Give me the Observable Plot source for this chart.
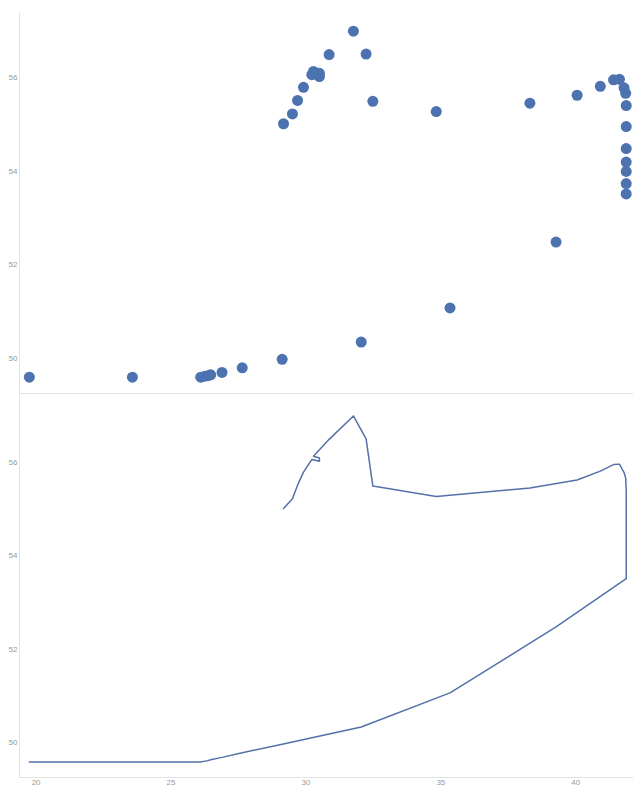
<!DOCTYPE html>
<html>
<head>
<meta charset="utf-8">
<script src="https://cdn.jsdelivr.net/npm/d3@7"></script>
<script src="https://cdn.jsdelivr.net/npm/@observablehq/plot@0.6"></script>
<style>
  html, body { margin: 0; padding: 0; background: #fff; }
  #chart svg { display: block; }
</style>
</head>
<body>
<div id="chart"></div>
<script>
// Track positions in path order
const lon = [19.75, 23.57, 26.10, 26.25, 26.37, 26.47, 26.89, 27.64, 29.12, 32.05, 35.34, 39.27,
  41.87, 41.87, 41.87, 41.87, 41.87, 41.87, 41.87, 41.85, 41.79, 41.62, 41.40, 40.91, 40.05,
  38.30, 34.83, 32.48, 32.23, 31.76, 30.86, 30.28, 30.50, 30.50, 30.22, 29.91, 29.69, 29.50, 29.17];
const lat = [49.59, 49.59, 49.59, 49.61, 49.62, 49.64, 49.69, 49.79, 49.97, 50.34, 51.07, 52.48,
  53.51, 53.73, 53.99, 54.19, 54.48, 54.95, 55.40, 55.66, 55.78, 55.96, 55.95, 55.81, 55.62,
  55.45, 55.27, 55.49, 56.50, 56.99, 56.49, 56.13, 56.09, 56.02, 56.06, 55.79, 55.51, 55.22, 55.01];
const xTicks = [20, 25, 30, 35, 40];
const yTicks = [50, 52, 54, 56];

const data = lon.map((x, i) => ({lon: x, lat: lat[i]}));

const xDomain = [19.385, 42.14];
const yTop = [49.24, 57.39];
const yBottom = [49.26, 57.47];
const axisColor = "#e2e2e2";
const style = {fontSize: "8px", color: "#999", fontFamily: "'Liberation Sans', Arial, sans-serif", background: "white", overflow: "visible"};

const topPlot = Plot.plot({
  width: 633, height: 393,
  marginTop: 12, marginBottom: 0, marginLeft: 19, marginRight: 0,
  style,
  x: {domain: xDomain, axis: null},
  y: {domain: yTop, ticks: yTicks, tickSize: 0, tickPadding: 2, label: null},
  marks: [
    Plot.ruleX([xDomain[0]], {stroke: axisColor}),
    Plot.ruleY([yTop[0]], {stroke: axisColor}),
    Plot.dot(data, {x: "lon", y: "lat", r: 5.5, fill: "#4c72b0", stroke: "none"})
  ]
});

const bottomPlot = Plot.plot({
  width: 633, height: 394,
  marginTop: 0, marginBottom: 10, marginLeft: 19, marginRight: 0,
  style,
  x: {domain: xDomain, ticks: xTicks, tickSize: 0, tickPadding: 2, label: null},
  y: {domain: yBottom, ticks: yTicks, tickSize: 0, tickPadding: 2, label: null},
  marks: [
    Plot.ruleX([xDomain[0]], {stroke: axisColor}),
    Plot.ruleY([yBottom[0]], {stroke: axisColor}),
    Plot.line(data, {x: "lon", y: "lat", stroke: "#5470aa", strokeWidth: 1.5})
  ]
});

document.getElementById("chart").append(topPlot, bottomPlot);
</script>
</body>
</html>
